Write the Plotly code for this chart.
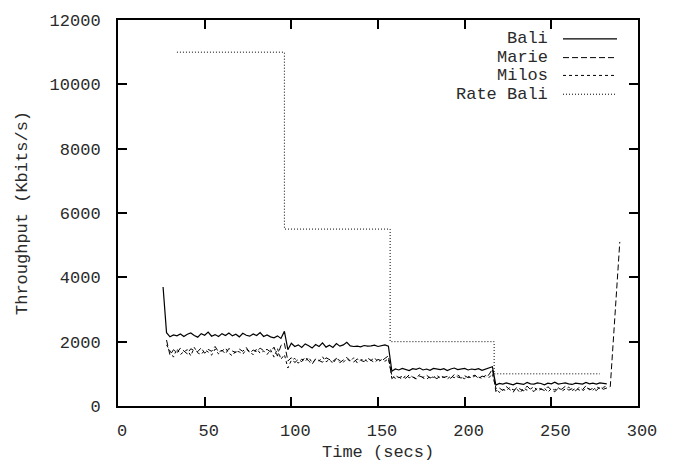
import plotly.graph_objects as go

# Sample times (secs)
T = [26, 28, 30, 32, 34, 36, 38, 40, 42, 44, 46, 48, 50, 52, 54, 56, 58, 60, 62, 64,
     66, 68, 70, 72, 74, 76, 78, 80, 82, 84, 86, 88, 90, 92, 94, 96, 98, 100, 102, 104,
     106, 108, 110, 112, 114, 116, 118, 120, 122, 124, 126, 128, 130, 132, 134, 136, 138, 140, 142, 144,
     146, 148, 150, 152, 154, 156, 158, 160, 162, 164, 166, 168, 170, 172, 174, 176, 178, 180, 182, 184,
     186, 188, 190, 192, 194, 196, 198, 200, 202, 204, 206, 208, 210, 212, 214, 216, 218, 220, 222, 224,
     226, 228, 230, 232, 234, 236, 238, 240, 242, 244, 246, 248, 250, 252, 254, 256, 258, 260, 262, 264,
     266, 268, 270, 272, 274, 276, 278, 280, 282, 284]

BALI = [3700, 2280,
        2150, 2210, 2180, 2240, 2160, 2230, 2270, 2190, 2140, 2250, 2200, 2300, 2170, 2220, 2160, 2250,
        2190, 2270, 2180, 2230, 2150, 2260, 2200, 2170, 2240, 2190, 2280, 2160, 2210, 2150, 2120, 2180, 2100,
        2320,
        1750, 1950, 1850, 1900, 1820, 1930, 1870, 1800, 1910, 1850, 1960, 1830, 1890, 1820, 1940, 1860,
        1900, 1980, 1870, 1850, 1860, 1840, 1880, 1860, 1870, 1890, 1850, 1880, 1900, 1860,
        1080, 1150, 1120, 1170, 1130, 1100, 1160, 1140, 1180, 1120, 1150, 1110, 1170, 1140, 1130, 1160,
        1100, 1150, 1180, 1130, 1140, 1170, 1120, 1150, 1130, 1160, 1110, 1140, 1180, 1220,
        650, 700, 680, 720, 690, 660, 710, 700, 670, 730, 690, 680, 720, 700, 660, 710, 690, 740, 680,
        700, 720, 690, 670, 710, 700, 680, 730, 690, 710, 680, 720, 700, 690,
        None]

MARIE = [None, 2050,
         1580, 1750, 1650, 1800, 1700, 1620, 1780, 1720, 1690, 1810, 1640, 1760, 1700, 1850, 1680, 1730,
         1620, 1790, 1710, 1660, 1770, 1700, 1820, 1650, 1740, 1690, 1800, 1720, 1760, 1680, 1830, 1550, 1880,
         1950, 1400,
         1500, 1350, 1450, 1380, 1520, 1400, 1300, 1470, 1420, 1360, 1500, 1440, 1390, 1480, 1350, 1430,
         1510, 1400, 1370, 1460, 1420, 1380, 1490, 1410, 1350, 1450, 1400, 1480, 1560,
         850, 950, 880, 920, 860, 970, 900, 840, 930, 890, 960, 870, 910, 850, 940, 890, 920, 860, 980,
         900, 870, 940, 880, 910, 960, 850, 930, 900, 970, 1150,
         450, 560, 480, 600, 500, 430, 580, 520, 470, 620, 510, 450, 570, 530, 480, 600, 500, 440, 560,
         520, 610, 490, 540, 470, 580, 510, 630, 500, 550, 480, 600, 520, 560,
         600]
MARIE_TAIL_T = [289.5]
MARIE_TAIL = [5100]

MILOS = [None, 1900,
         1700, 1520, 1780, 1600, 1690, 1750, 1560, 1820, 1650, 1600, 1740, 1680, 1580, 1770, 1620, 1700,
         1800, 1640, 1560, 1720, 1680, 1610, 1760, 1700, 1590, 1780, 1640, 1710, 1600, 1750, 1520, 1790, 1450,
         1600, 1180,
         1420, 1480, 1330, 1460, 1390, 1510, 1350, 1440, 1400, 1530, 1370, 1450, 1320, 1480, 1410, 1360,
         1470, 1390, 1500, 1340, 1430, 1460, 1380, 1420, 1500, 1370, 1440, 1390, 1470,
         940, 860, 900, 830, 950, 880, 910, 850, 980, 870, 830, 920, 890, 950, 860, 900, 840, 930, 880,
         960, 890, 850, 920, 870, 940, 900, 860, 950, 880, 1000,
         560, 420, 520, 470, 580, 500, 540, 410, 560, 490, 530, 600, 470, 520, 560, 430, 540, 500, 580,
         460, 520, 590, 480, 550, 500, 460, 570, 530, 490, 600, 540, 580, 620,
         None]

RATE_T = [34, 96, 157, 217, 278]
RATE_BALI = [11000, 5500, 2000, 1000, 1000]

assert len(T) == len(BALI) == len(MARIE) == len(MILOS), (len(T), len(BALI), len(MARIE), len(MILOS))

X_TICKS = [0, 50, 100, 150, 200, 250, 300]
Y_TICKS = [0, 2000, 4000, 6000, 8000, 10000, 12000]

FONT = "Courier New, Liberation Mono, monospace"
FS = 17
TXT = "#2a2a2a"

series = [
    ("Bali", T, BALI, "solid", 1.2),
    ("Marie", T + MARIE_TAIL_T, MARIE + MARIE_TAIL, "6px,3px", 1.0),
    ("Milos", T, MILOS, "3px,3px", 1.0),
]

fig = go.Figure()
for name, xs, ys, dash, w in series:
    fig.add_trace(go.Scatter(x=xs, y=ys, mode="lines", name=name,
                             line=dict(color="black", width=w, dash=dash),
                             connectgaps=False, showlegend=False))
fig.add_trace(go.Scatter(x=RATE_T, y=RATE_BALI, mode="lines", name="Rate Bali",
                         line=dict(color="black", width=1.0, dash="1px,2px", shape="hv"),
                         showlegend=False))

# custom gnuplot-style key (text right, sample at right)
legend_rows = [("Bali", "solid", 1.2), ("Marie", "6px,3px", 1.0),
               ("Milos", "3px,3px", 1.0), ("Rate Bali", "1px,2px", 1.0)]
row_y = [35, 54, 72, 91]  # px from top
L, R, TOP, BOT = 118, 638, 16, 406
for (lab, dash, w), py in zip(legend_rows, row_y):
    yp = (BOT - py) / (BOT - TOP)
    fig.add_annotation(x=(550 - L) / (R - L), y=yp, xref="paper", yref="paper",
                       text=lab, showarrow=False, xanchor="right", yanchor="middle",
                       font=dict(family=FONT, size=FS, color=TXT))
    fig.add_shape(type="line", xref="paper", yref="paper",
                  x0=(563 - L) / (R - L), x1=(617 - L) / (R - L), y0=yp, y1=yp,
                  line=dict(color="black", width=w, dash=dash))

fig.add_annotation(x=0.5, y=(BOT - 453) / (BOT - TOP), xref="paper", yref="paper",
                   text="Time (secs)", showarrow=False, xanchor="center", yanchor="middle",
                   font=dict(family=FONT, size=FS, color=TXT))
fig.add_annotation(x=(22 - L) / (R - L), y=0.5, xref="paper", yref="paper",
                   text="Throughput (Kbits/s)", showarrow=False, textangle=-90,
                   xanchor="center", yanchor="middle",
                   font=dict(family=FONT, size=FS, color=TXT))

axis_common = dict(showgrid=False, zeroline=False, showline=True, linecolor="black",
                   linewidth=2, mirror="ticks", ticks="inside", ticklen=9, tickwidth=2,
                   tickcolor="black", tickfont=dict(family=FONT, size=FS, color=TXT))
fig.update_xaxes(range=[0, 300], tickvals=X_TICKS, ticktext=[str(v) for v in X_TICKS],
                 ticklabelstandoff=8, ticklabelshift=4, **axis_common)
fig.update_yaxes(range=[0, 12000], tickvals=Y_TICKS, ticktext=[str(v) for v in Y_TICKS],
                 ticklabelstandoff=12, **axis_common)

fig.update_layout(width=673, height=464, margin=dict(l=L, r=673 - R, t=TOP, b=464 - BOT),
                  paper_bgcolor="white", plot_bgcolor="white", showlegend=False,
                  font=dict(family=FONT, size=FS, color=TXT))

fig.write_html("out.html", config={"displayModeBar": False},
               post_script="document.body.style.margin='0';document.body.style.overflow='hidden';")
